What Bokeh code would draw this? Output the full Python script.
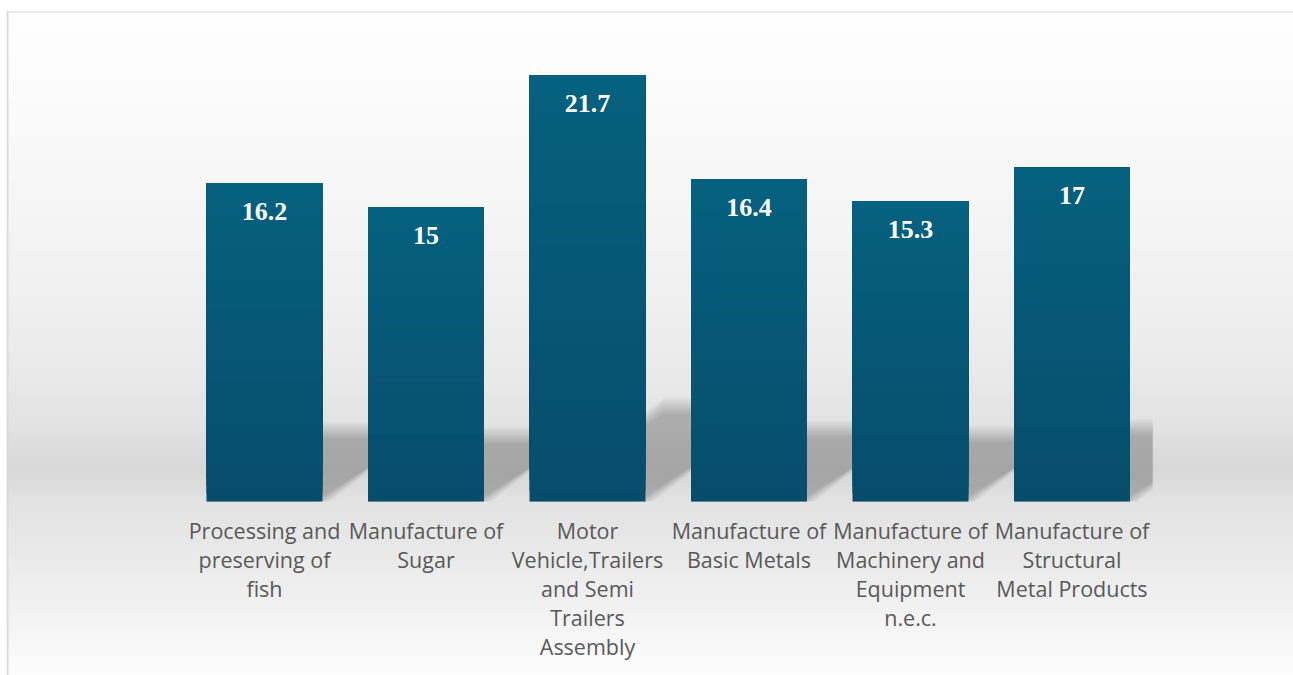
import numpy as np
from bokeh.plotting import figure
from bokeh.models import Range1d, Span
from bokeh.core.properties import value
from bokeh.embed import file_html
from bokeh.resources import INLINE

# ---- data ----
categories = [
    "Processing and\npreserving of\nfish",
    "Manufacture of\nSugar",
    "Motor\nVehicle,Trailers\nand Semi\nTrailers\nAssembly",
    "Manufacture of\nBasic Metals",
    "Manufacture of\nMachinery and\nEquipment\nn.e.c.",
    "Manufacture of\nStructural\nMetal Products",
]
values = [16.2, 15, 21.7, 16.4, 15.3, 17]
value_labels = [f"{v:g}" for v in values]

# ---- layout (pixels) ----
W, H = 1293, 675
FL, FT = 6, 10          # frame left / top
PPX = 161.5             # pixels per category
X0PX = 264              # pixel centre of first category
PPY = 19.63             # pixels per value unit
BASEPX = 501            # pixel of the zero line
BAR_W = 0.718

def px_x(px):
    return (px - X0PX) / PPX

def px_y(py):
    return (BASEPX - py) / PPY

x_start, x_end = px_x(FL), px_x(W)
y_start, y_end = px_y(H), px_y(FT)

p = figure(width=W, height=H, output_backend="svg", toolbar_location=None,
           x_range=Range1d(x_start, x_end), y_range=Range1d(y_start, y_end),
           x_axis_location=None, y_axis_location=None,
           min_border_left=FL, min_border_top=FT, min_border_right=0, min_border_bottom=0)
p.grid.visible = False
p.outline_line_color = None
p.background_fill_color = "white"
p.border_fill_color = "white"

# ---- background gradient ----
stops_px = [10, 80, 200, 300, 380, 430, 455, 470, 485, 500, 540, 580, 620, 660, 675]
stops_g = [255, 252, 246, 240, 233, 226, 219, 216, 221, 227, 232, 238, 244, 251, 253]
rows = H - FT
centers = H - np.arange(rows) - 0.5
g = np.interp(centers, stops_px, stops_g).astype(np.uint8)
img = np.empty((rows, 2), dtype=np.uint32)
view = img.view(dtype=np.uint8).reshape((rows, 2, 4))
view[:, :, 0] = g[:, None]
view[:, :, 1] = g[:, None]
view[:, :, 2] = g[:, None]
view[:, :, 3] = 255
p.image_rgba(image=[img], x=x_start, y=y_start, dw=x_end - x_start, dh=y_end - y_start)

# ---- soft shadows behind bars ----
def clip(poly, xc):
    out = []
    n = len(poly)
    for i in range(n):
        a = poly[i]; b = poly[(i + 1) % n]
        ain = a[0] <= xc; bin_ = b[0] <= xc
        if ain:
            out.append(a)
        if ain != bin_:
            t = (xc - a[0]) / (b[0] - a[0])
            out.append((xc, a[1] + t * (b[1] - a[1])))
    return out

xclip = len(values) - 0.5
sxs, sys_ = [], []
for i, v in enumerate(values):
    L, R = i - BAR_W / 2, i + BAR_W / 2
    h = 0.225 * v
    dx = h * PPY * 1.4 / PPX
    for k in range(-4, 5):
        ex = k * 2 / PPX
        ey = k * 2 / PPY
        poly = [(L, 0), (R + ex, 0), (R + ex + dx, h + ey), (L + dx, h + ey)]
        poly = clip(poly, xclip)
        sxs.append([q[0] for q in poly])
        sys_.append([q[1] for q in poly])
p.patches(sxs, sys_, fill_color="black", fill_alpha=0.026, line_color=None)

# ---- bars with vertical gradient ----
top_c = np.array([0x06, 0x61, 0x80])
bot_c = np.array([0x07, 0x4d, 0x6b])
N = 40
xs_idx = list(range(len(values)))
for k in range(N):
    t = k / N
    c = bot_c + (top_c - bot_c) * t
    col = "#%02x%02x%02x" % tuple(int(round(q)) for q in c)
    p.vbar(x=xs_idx, width=BAR_W, bottom=[v * t for v in values], top=values,
           fill_color=col, line_color=None)

# ---- value labels ----
p.text(x=xs_idx, y=values, text=value_labels, y_offset=28,
       text_align="center", text_baseline="middle",
       text_font=value("Liberation Serif"), text_font_style="bold",
       text_font_size="26px", text_color="white")

# ---- category labels ----
p.text(x=xs_idx, y=[0] * len(values), text=categories, y_offset=14.5,
       text_align="center", text_baseline="top",
       text_font=value("Open Sans"), text_font_size="21.5px",
       text_color="#595959", text_line_height=1.0)

# ---- chart border ----
p.add_layout(Span(location=px_x(7), dimension="height", line_color="#d9d9d9", line_width=2))
p.add_layout(Span(location=px_y(11.5), dimension="width", line_color="#d9d9d9", line_width=1))

open("out.html", "w").write(file_html(p, INLINE))
